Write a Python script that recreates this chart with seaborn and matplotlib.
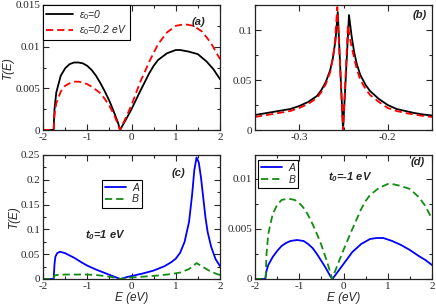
import numpy as np
import pandas as pd
import matplotlib
matplotlib.use("Agg")
import matplotlib.pyplot as plt
import seaborn as sns
from matplotlib.ticker import MultipleLocator, FuncFormatter

# ---- panel (a): T(E) for two on-site energies ----
a_x_eps0 = [-2.0, -1.76, -1.74, -1.7, -1.6, -1.5, -1.4, -1.3, -1.2, -1.1, -1.0, -0.9, -0.8, -0.7,
            -0.6, -0.5, -0.4, -0.3, -0.26, -0.1, 0.0, 0.2, 0.4, 0.5, 0.6, 0.8, 1.0, 1.1, 1.3, 1.5,
            1.7, 1.85, 2.0]
a_y_eps0 = [0.0, 0.0, 0.0025, 0.0045, 0.0065, 0.0074, 0.0079, 0.0081, 0.0081, 0.0080, 0.0077,
            0.0072, 0.0065, 0.0056, 0.0046, 0.0035, 0.0022, 0.0008, 0.0, 0.0015, 0.0025, 0.0047,
            0.0068, 0.0077, 0.0084, 0.0092, 0.0096, 0.0096, 0.0094, 0.0091, 0.0082, 0.0073, 0.0061]
a_x_eps02 = [-2.0, -1.76, -1.74, -1.7, -1.6, -1.5, -1.4, -1.3, -1.2, -1.1, -1.0, -0.9, -0.8, -0.7,
             -0.6, -0.5, -0.4, -0.3, -0.26, -0.1, 0.0, 0.2, 0.42, 0.6, 0.8, 1.0, 1.2, 1.4, 1.6,
             1.8, 2.0]
a_y_eps02 = [0.0, 0.0, 0.0018, 0.0032, 0.0046, 0.0053, 0.0056, 0.0058, 0.0058, 0.0057, 0.0055,
             0.0052, 0.0048, 0.0044, 0.0037, 0.0029, 0.0019, 0.0006, 0.0, 0.0018, 0.003, 0.0058,
             0.0084, 0.0103, 0.0117, 0.0125, 0.0127, 0.0125, 0.0118, 0.0104, 0.0085]

# ---- panel (b): zoom around the antiresonance ----
b_x_eps0 = [-0.35, -0.33, -0.31, -0.3, -0.29, -0.28, -0.275, -0.27, -0.265, -0.262, -0.259,
            -0.2565, -0.2505, -0.2438, -0.241, -0.238, -0.235, -0.231, -0.225, -0.22, -0.21,
            -0.2, -0.19, -0.18, -0.17, -0.16, -0.15]
b_y_eps0 = [0.015, 0.018, 0.021, 0.024, 0.028, 0.034, 0.04, 0.048, 0.06, 0.072, 0.09,
            0.118, 0.0, 0.115, 0.095, 0.078, 0.066, 0.055, 0.045, 0.039, 0.031,
            0.025, 0.021, 0.019, 0.017, 0.0155, 0.0145]
b_x_eps02 = [-0.35, -0.33, -0.31, -0.3, -0.29, -0.28, -0.275, -0.27, -0.265, -0.262, -0.26,
             -0.257, -0.2505, -0.245, -0.242, -0.238, -0.235, -0.231, -0.225, -0.22, -0.21,
             -0.2, -0.19, -0.18, -0.17, -0.16, -0.15]
b_y_eps02 = [0.013, 0.016, 0.019, 0.022, 0.026, 0.032, 0.038, 0.046, 0.058, 0.072, 0.085,
             0.123, 0.0, 0.105, 0.088, 0.072, 0.061, 0.05, 0.041, 0.035, 0.028,
             0.022, 0.019, 0.017, 0.0155, 0.014, 0.013]

# ---- panel (c): t0 = 1 eV ----
c_x_A = [-2.0, -1.76, -1.74, -1.72, -1.68, -1.62, -1.5, -1.3, -1.1, -1.0, -0.8, -0.6, -0.4,
         -0.25, -0.1, 0.0, 0.25, 0.5, 0.75, 0.9, 1.0, 1.1, 1.2, 1.3, 1.37, 1.42, 1.47, 1.52,
         1.57, 1.62, 1.67, 1.72, 1.8, 1.9, 2.0]
c_y_A = [0.0, 0.0, 0.03, 0.045, 0.052, 0.055, 0.052, 0.043, 0.032, 0.027, 0.019, 0.012, 0.005,
         0.0, 0.004, 0.006, 0.011, 0.017, 0.026, 0.034, 0.041, 0.053, 0.075, 0.115, 0.17, 0.22,
         0.245, 0.235, 0.205, 0.165, 0.125, 0.095, 0.065, 0.04, 0.026]
c_x_B = [-2.0, -1.76, -1.74, -1.7, -1.5, -1.2, -1.0, -0.8, -0.6, -0.4, -0.25, -0.1, 0.0, 0.3,
         0.6, 0.9, 1.1, 1.3, 1.47, 1.6, 1.75, 1.9, 2.0]
c_y_B = [0.0, 0.0, 0.007, 0.008, 0.009, 0.009, 0.009, 0.008, 0.006, 0.003, 0.0, 0.002, 0.003,
         0.005, 0.007, 0.01, 0.013, 0.02, 0.032, 0.025, 0.017, 0.011, 0.008]

# ---- panel (d): t0 = -1 eV ----
d_x_A = [-2.0, -1.77, -1.74, -1.7, -1.6, -1.5, -1.4, -1.3, -1.2, -1.05, -0.9, -0.8, -0.7, -0.6,
         -0.5, -0.4, -0.3, -0.25, -0.1, 0.0, 0.2, 0.4, 0.6, 0.75, 0.9, 1.1, 1.3, 1.5, 1.7,
         1.85, 2.0]
d_y_A = [0.0, 0.0, 0.0008, 0.0014, 0.0022, 0.0028, 0.0033, 0.0036, 0.0038, 0.0039, 0.0038,
         0.0035, 0.0031, 0.0025, 0.0018, 0.0011, 0.0003, 0.0, 0.0009, 0.0015, 0.0027, 0.0035,
         0.004, 0.0041, 0.0041, 0.0038, 0.0034, 0.0029, 0.0023, 0.0019, 0.0014]
d_x_B = a_x_eps0
d_y_B = [0.0, 0.0, 0.0025, 0.0045, 0.0065, 0.0074, 0.0079, 0.0080, 0.0080, 0.0079, 0.0076,
         0.0071, 0.0064, 0.0055, 0.0045, 0.0034, 0.0021, 0.0007, 0.0, 0.0018, 0.0029, 0.005,
         0.007, 0.0078, 0.0084, 0.0091, 0.0095, 0.0095, 0.0093, 0.009, 0.0082, 0.0073, 0.006]

sns.set_style("ticks")
plt.rcParams["font.family"] = ["Liberation Serif", "DejaVu Serif"]
plt.rcParams["axes.unicode_minus"] = False
plt.rcParams["xtick.direction"] = "in"
plt.rcParams["ytick.direction"] = "in"
plt.rcParams["mathtext.fontset"] = "custom"
plt.rcParams["mathtext.it"] = "Liberation Sans:italic"
plt.rcParams["mathtext.rm"] = "Liberation Sans"
plt.rcParams["mathtext.bf"] = "Liberation Sans:italic:bold"

fig = plt.figure(figsize=(4.36, 3.06), dpi=100)
W, H = 436, 306


def make_ax(l, t, r, b):
    return fig.add_axes([l / W, 1 - b / H, (r - l) / W, (b - t) / H])


ax_a = make_ax(43, 5, 220, 130)
ax_b = make_ax(255, 5, 432, 130)
ax_c = make_ax(43, 155, 220, 279)
ax_d = make_ax(255, 155, 432, 279)

sans = ["Liberation Sans", "DejaVu Sans"]
dash = (4, 2.2)


def curve(ax, x, y, color, label, dashed=False):
    df = pd.DataFrame({"E": x, "T": y})
    sns.lineplot(data=df, x="E", y="T", ax=ax, color=color, lw=1.3, sort=False,
                 estimator=None, label=label, legend=label is not None)
    if dashed:
        ax.lines[-1].set_dashes(dash)


curve(ax_a, a_x_eps0, a_y_eps0, "black", r"$\epsilon_0$=0")
curve(ax_a, a_x_eps02, a_y_eps02, "#ff0000", r"$\epsilon_0$=0.2 eV", dashed=True)
curve(ax_b, b_x_eps0, b_y_eps0, "black", None)
curve(ax_b, b_x_eps02, b_y_eps02, "#ff0000", None, dashed=True)
curve(ax_c, c_x_A, c_y_A, "#0000ff", "A")
curve(ax_c, c_x_B, c_y_B, "#118c11", "B", dashed=True)
curve(ax_d, d_x_A, d_y_A, "#0000ff", "A")
curve(ax_d, d_x_B, d_y_B, "#118c11", "B", dashed=True)

fmt = FuncFormatter(lambda v, p: "%g" % round(v, 6))
for ax in (ax_a, ax_b, ax_c, ax_d):
    ax.set_xlabel("")
    ax.set_ylabel("")
    ax.tick_params(which="both", top=True, right=True, labelsize=8, pad=2)
    ax.tick_params(which="major", length=4, width=0.8)
    ax.tick_params(which="minor", length=2.5, width=0.8)
    for s in ax.spines.values():
        s.set_linewidth(0.9)
        s.set_color("#222222")
    ax.xaxis.set_major_formatter(fmt)
    ax.yaxis.set_major_formatter(fmt)

for ax in (ax_a, ax_c, ax_d):
    ax.set_xlim(-2, 2)
    ax.xaxis.set_major_locator(MultipleLocator(1))
    ax.xaxis.set_minor_locator(MultipleLocator(0.5))

ax_a.set_ylim(0, 0.015)
ax_a.yaxis.set_major_locator(MultipleLocator(0.005))
ax_a.yaxis.set_minor_locator(MultipleLocator(0.0025))

ax_b.set_xlim(-0.35, -0.15)
ax_b.set_ylim(0, 0.125)
ax_b.xaxis.set_major_locator(MultipleLocator(0.1))
ax_b.xaxis.set_minor_locator(MultipleLocator(0.05))
ax_b.yaxis.set_major_locator(MultipleLocator(0.05))
ax_b.yaxis.set_minor_locator(MultipleLocator(0.025))

ax_c.set_ylim(0, 0.25)
ax_c.yaxis.set_major_locator(MultipleLocator(0.05))
ax_c.yaxis.set_minor_locator(MultipleLocator(0.025))

ax_d.set_ylim(0, 0.0124)
ax_d.yaxis.set_major_locator(MultipleLocator(0.005))
ax_d.yaxis.set_minor_locator(MultipleLocator(0.0025))

# axis labels
for ax in (ax_a, ax_c):
    ax.set_ylabel("T(E)", family=sans, style="italic", fontsize=8.5, labelpad=1)
for ax in (ax_c, ax_d):
    ax.set_xlabel("E (eV)", family=sans, style="italic", fontsize=8.5, labelpad=1)

# panel tags and annotations
tag = dict(family=sans, style="italic", weight="bold", fontsize=8, ha="center", va="center")
ax_a.text(0.876, 0.864, "(a)", transform=ax_a.transAxes, **tag)
ax_b.text(0.93, 0.92, "(b)", transform=ax_b.transAxes, **tag)
ax_c.text(0.763, 0.855, "(c)", transform=ax_c.transAxes, **tag)
ax_d.text(0.92, 0.944, "(d)", transform=ax_d.transAxes, **tag)
ax_c.text(0.35, 0.355, r"$\mathbf{t_0}$=1 eV", transform=ax_c.transAxes, **tag)
ax_d.text(0.537, 0.82, r"$\mathbf{t_0}$=-1 eV", transform=ax_d.transAxes, **tag)

leg_kw = dict(prop={"family": sans, "style": "italic", "size": 7.5}, frameon=True, fancybox=False,
              borderaxespad=0, framealpha=1, edgecolor="black", handletextpad=0.6,
              labelspacing=0.15, borderpad=0.3)
lg = ax_a.legend(loc="upper left", bbox_to_anchor=(0, 1), handlelength=2.6, **leg_kw)
lg.get_frame().set_linewidth(0.8)
lg = ax_c.legend(loc="upper left", bbox_to_anchor=(0.333, 0.80), handlelength=2.0, **leg_kw)
lg.get_frame().set_linewidth(0.8)
lg = ax_d.legend(loc="upper left", bbox_to_anchor=(0.017, 0.96), handlelength=2.0, **leg_kw)
lg.get_frame().set_linewidth(0.8)

fig.savefig("out.png", dpi=100)
